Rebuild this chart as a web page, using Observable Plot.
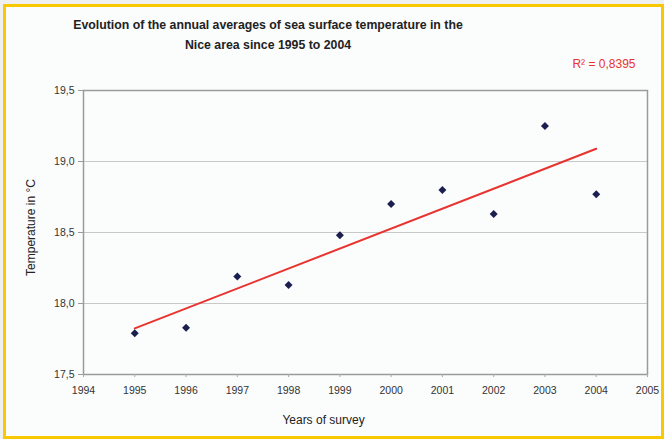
<!DOCTYPE html>
<html>
<head>
<meta charset="utf-8">
<script src="https://cdn.jsdelivr.net/npm/d3@7"></script>
<script src="https://cdn.jsdelivr.net/npm/@observablehq/plot@0.6"></script>
<style>
  html, body { margin: 0; padding: 0; background: #efefef; }
  body { width: 664px; height: 439px; position: relative; overflow: hidden; font-family: "Liberation Sans", Arial, sans-serif; }
  #frame { position: absolute; left: 3px; top: 4px; width: 661px; height: 435px; box-sizing: border-box; border: 3px solid #f8c800; background: #fbfcfc; }
  #title { position: absolute; left: 0; top: 15px; width: 536px; text-align: center; font-weight: bold; font-size: 12.3px; line-height: 20px; color: #222; }
  #chart { position: absolute; left: 0; top: 55px; }
</style>
</head>
<body>
<div id="frame"></div>
<div id="title">Evolution of the annual averages of sea surface temperature in the<br>Nice area since 1995 to 2004</div>
<div id="chart"></div>
<script>
const years = [1995, 1996, 1997, 1998, 1999, 2000, 2001, 2002, 2003, 2004];
const temperatures = [17.79, 17.83, 18.19, 18.13, 18.48, 18.70, 18.80, 18.63, 19.25, 18.77];
const xTicks = [1994, 1995, 1996, 1997, 1998, 1999, 2000, 2001, 2002, 2003, 2004, 2005];
const yTicks = [17.5, 18.0, 18.5, 19.0, 19.5];
const rSquaredLabel = "R² = 0,8395";
const xLabel = "Years of survey";
const yLabel = "Temperature in °C";

const data = years.map((y, i) => ({year: y, temp: temperatures[i]}));

const chart = Plot.plot({
  width: 664,
  height: 384,
  marginLeft: 83,
  marginRight: 17,
  marginTop: 35,
  marginBottom: 65,
  style: {fontFamily: "Liberation Sans, Arial, sans-serif", fontSize: "10px", color: "#333", background: "transparent", overflow: "visible"},
  x: {domain: [1994, 2005], ticks: xTicks, tickFormat: d => String(d), label: null},
  y: {domain: [17.5, 19.5], ticks: yTicks, tickFormat: d => d.toFixed(1).replace(".", ","), label: null},
  marks: [
    Plot.gridY(yTicks, {stroke: "#c8c8c8", strokeOpacity: 1}),
    Plot.frame({stroke: "#9a9a9a", strokeWidth: 1.5}),
    Plot.axisX({ticks: xTicks, tickFormat: d => String(d), tickSize: 3, stroke: "#aaa", tickPadding: 9, fill: "#333", fontSize: 10.5}),
    Plot.axisY({ticks: yTicks, tickFormat: d => d.toFixed(1).replace(".", ","), tickSize: 5, stroke: "#9a9a9a", tickPadding: 4, fill: "#333", fontSize: 10.5}),
    Plot.linearRegressionY(data, {x: "year", y: "temp", stroke: "#e8332f", strokeWidth: 2, ci: 0}),
    Plot.dot(data, {x: "year", y: "temp", symbol: "diamond2", r: 3.6, fill: "#1b1f4f", stroke: "none"}),
    Plot.text([rSquaredLabel], {frameAnchor: "top-right", textAnchor: "end", dx: -12, dy: -31, fill: "#e8332f", fontSize: 12}),
    Plot.text([xLabel], {frameAnchor: "bottom", textAnchor: "middle", dx: -42, dy: 49, fill: "#222", fontSize: 12}),
    Plot.text([yLabel], {frameAnchor: "left", textAnchor: "middle", rotate: -90, dx: -52, dy: -5, fill: "#222", fontSize: 12})
  ]
});
document.getElementById("chart").appendChild(chart);
</script>
</body>
</html>
